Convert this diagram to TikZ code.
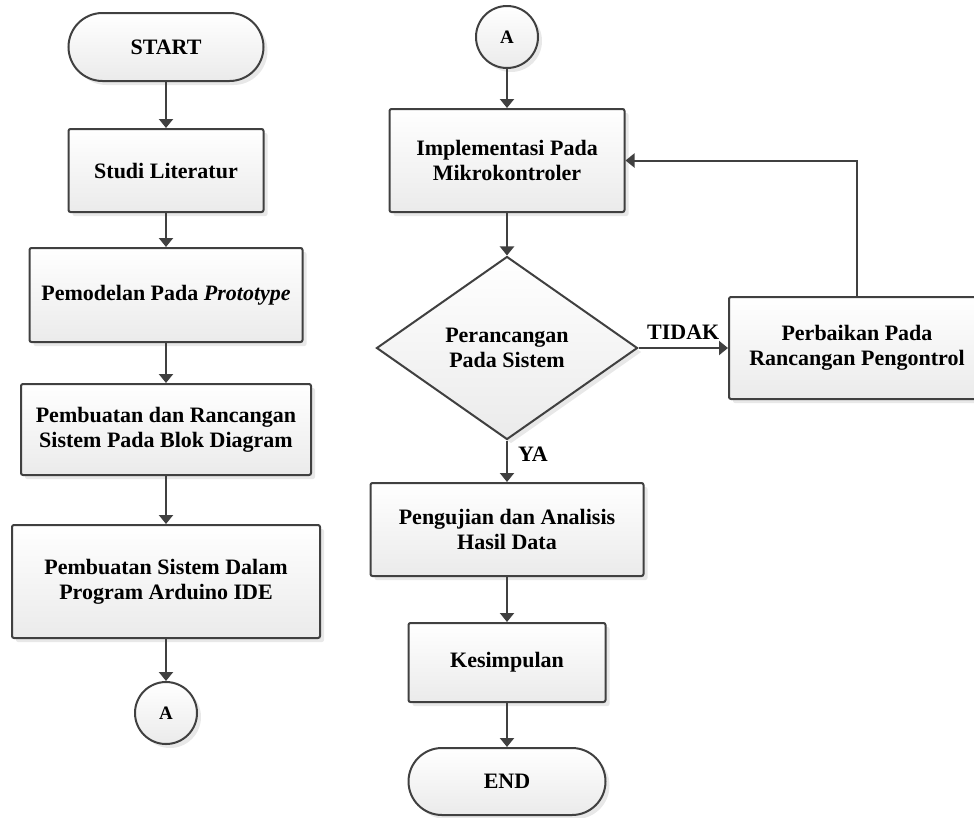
\documentclass[tikz,border=0pt]{standalone}
\usepackage{fontspec}
\setmainfont{Liberation Serif}
\usetikzlibrary{shapes.geometric,shapes.misc,arrows.meta,shadows}

\definecolor{garis}{HTML}{404040}
\definecolor{bayang}{HTML}{D8D8D8}

\tikzset{
  dasar/.style={draw=garis, line width=2pt, top color=white, bottom color=black!8,
    drop shadow={shadow xshift=4pt, shadow yshift=-4pt, fill=bayang, opacity=0.6},
    align=center, inner sep=0pt, font=\bfseries\fontsize{22}{25}\selectfont},
  proses/.style={dasar, rectangle, rounded corners=2pt},
  terminal/.style={dasar, rounded rectangle},
  konektor/.style={dasar, circle, minimum size=62pt, font=\bfseries\fontsize{19}{22}\selectfont},
  keputusan/.style={dasar, diamond, aspect=1.43},
  panah/.style={draw=garis, line width=2pt, -{Triangle[width=14pt,length=9pt]}},
  ket/.style={font=\bfseries\fontsize{22}{25}\selectfont, inner sep=0pt}
}

\begin{document}
\begin{tikzpicture}[x=1pt,y=-1pt]
 \useasboundingbox (0,0) rectangle (974,817);
 \clip (0,0) rectangle (974,817);

 % kolom kiri
 \node[terminal, minimum width=195pt, minimum height=68pt] (start) at (166,47) {START};
 \node[proses, minimum width=195pt, minimum height=83pt] (studi) at (166,170.5) {Studi Literatur};
 \node[proses, minimum width=273pt, minimum height=94pt] (pemodelan) at (166,295) {Pemodelan Pada \textit{Prototype}};
 \node[proses, minimum width=290pt, minimum height=91pt] (rancangan) at (166,429.5) {Pembuatan dan Rancangan\\Sistem Pada Blok Diagram};
 \node[proses, minimum width=308pt, minimum height=113pt] (program) at (166,581.5) {Pembuatan Sistem Dalam\\Program Arduino IDE};
 \node[konektor] (konA) at (166,713) {A};

 % kolom kanan
 \node[konektor] (konB) at (507,37) {A};
 \node[proses, minimum width=235pt, minimum height=103pt] (implementasi) at (507,160.5) {Implementasi Pada\\Mikrokontroler};
 \node[keputusan, minimum width=261pt, minimum height=183pt] (keputusan) at (507,348) {Perancangan\\Pada Sistem};
 \node[proses, minimum width=256pt, minimum height=102pt] (perbaikan) at (857,348) {Perbaikan Pada\\Rancangan Pengontrol};
 \node[proses, minimum width=273pt, minimum height=93pt] (pengujian) at (507,529.5) {Pengujian dan Analisis\\Hasil Data};
 \node[proses, minimum width=197pt, minimum height=79pt] (kesimpulan) at (507,662.5) {Kesimpulan};
 \node[terminal, minimum width=197pt, minimum height=67pt] (end) at (507,781.5) {END};

 % alur
 \draw[panah] (start) -- (studi);
 \draw[panah] (studi) -- (pemodelan);
 \draw[panah] (pemodelan) -- (rancangan);
 \draw[panah] (rancangan) -- (program);
 \draw[panah] (program) -- (konA);

 \draw[panah] (konB) -- (implementasi);
 \draw[panah] (implementasi) -- (keputusan);
 \draw[panah] (keputusan.east) -- node[ket, above=7pt] {TIDAK} (perbaikan.west);
 \draw[panah] (perbaikan.north) |- (implementasi.east);
 \draw[panah] (keputusan.south) -- node[ket, right=10pt, pos=0.33] {YA} (pengujian.north);
 \draw[panah] (pengujian) -- (kesimpulan);
 \draw[panah] (kesimpulan) -- (end);
\end{tikzpicture}
\end{document}
